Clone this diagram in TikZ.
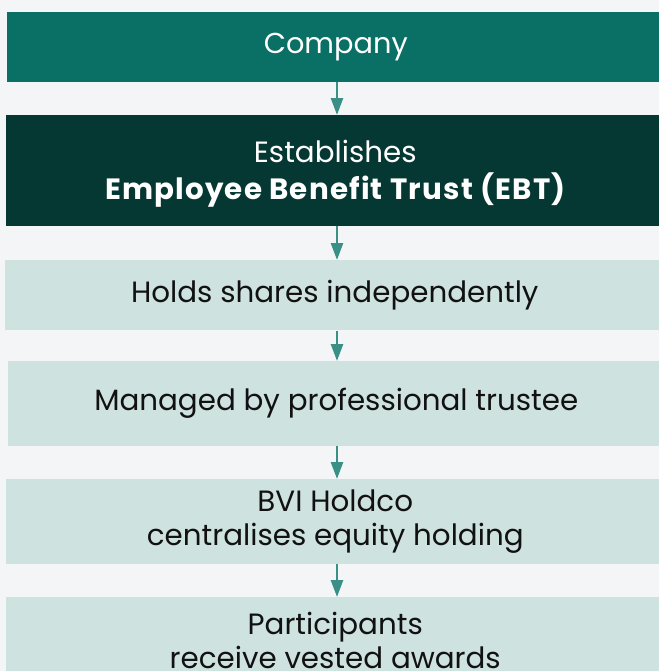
\documentclass[tikz,border=0pt]{standalone}
\usepackage{fontspec}
\setmainfont{Poppins}
\usetikzlibrary{arrows.meta}
\definecolor{bgc}{HTML}{F4F5F7}
\definecolor{teal1}{HTML}{0A7066}
\definecolor{dark1}{HTML}{053833}
\definecolor{light1}{HTML}{CEE2E0}
\definecolor{arrc}{HTML}{3A8F86}
\definecolor{txt}{HTML}{111111}
\begin{document}
\begin{tikzpicture}[x=0.75pt,y=-0.75pt,
  box/.style={rectangle,anchor=north west,inner sep=0pt,align=center,minimum width=#1*0.75pt},
  box/.default=657,
  topbox/.style={box,fill=teal1,text=white,font=\fontsize{21.6}{26}\selectfont},
  darkbox/.style={box,fill=dark1,text=white,font=\fontsize{22}{27.5}\selectfont},
  lightbox/.style={box,fill=light1,text=txt,font=\fontsize{22}{25.5}\selectfont},
  arr/.style={draw=arrc,line width=2.6pt*0.75,-{Triangle[width=12pt*0.75,length=17pt*0.75]},shorten >=0pt}]
\useasboundingbox (0,0) rectangle (659,671);
\clip (0,0) rectangle (659,671);
\fill[bgc] (0,0) rectangle (659,671);
\coordinate (ax) at (337,0);
\node[topbox,box=657,minimum height=69.7*0.75pt] (b1) at (7,12) {Company};
\node[darkbox,box=658,minimum height=110.7*0.75pt] (b2) at (6,115)
  {\raisebox{0pt}[\dimexpr\height+4.5pt\relax]{Establishes}\\{\bfseries\addfontfeatures{LetterSpace=4}Employee Benefit Trust (EBT)}};
\node[lightbox,box=659,minimum height=70*0.75pt] (b3) at (5,260) {Holds shares independently};
\node[lightbox,box=656,minimum height=84.7*0.75pt] (b4) at (8,361) {Managed by professional trustee};
\node[lightbox,box=658,minimum height=84.7*0.75pt] (b5) at (6,479) {BVI Holdco\\centralises equity holding};
\node[lightbox,box=658,minimum height=86*0.75pt] (b6) at (6,597) {Participants\\receive vested awards};
\draw[arr] (b1.south -| ax) -- (b2.north -| ax);
\draw[arr] (b2.south -| ax) -- (b3.north -| ax);
\draw[arr] (b3.south -| ax) -- (b4.north -| ax);
\draw[arr] (b4.south -| ax) -- (b5.north -| ax);
\draw[arr] (b5.south -| ax) -- (b6.north -| ax);
\end{tikzpicture}
\end{document}
